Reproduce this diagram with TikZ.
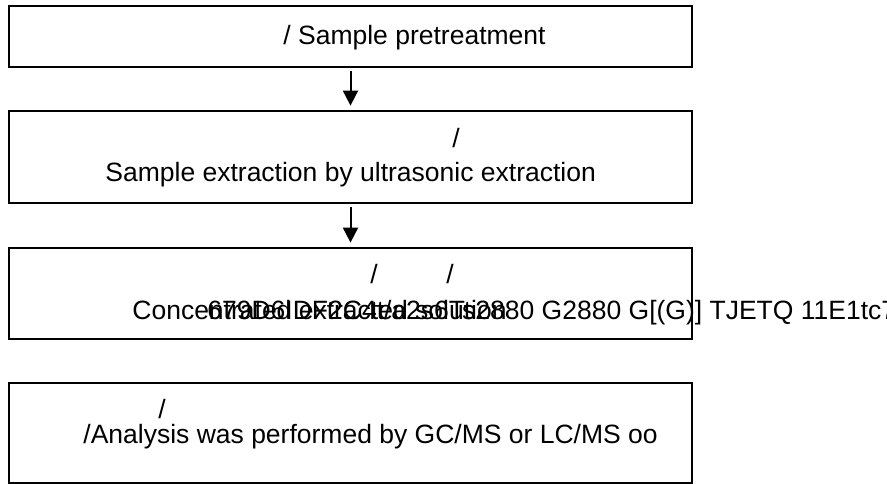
\documentclass[tikz,border=0pt]{standalone}
\usepackage{fontspec}
\setmainfont{Liberation Sans}
\usetikzlibrary{arrows.meta,positioning}

\begin{document}
\begin{tikzpicture}
	[x=1pt,y=-1pt,thick,
	stage/.style={shape=rectangle,draw,line width=1.8pt,minimum width=683pt,inner sep=0pt},
	txt/.style={anchor=base west,inner sep=0pt,font=\fontsize{26.5}{30}\selectfont}]
	\useasboundingbox (0,0) rectangle (887,484);
	% the four stages
	\node[stage,minimum height=61pt] (s1) at (350.5,36.5) {};
	\node[stage,minimum height=92pt] (s2) at (350.5,157) {};
	\node[stage,minimum height=91pt] (s3) at (350.5,293.5) {};
	\node[stage,minimum height=100pt] (s4) at (350.5,433) {};

	\node[txt] (t1) at (283,45) {/ Sample pretreatment};

	\node[txt] (t2a) at (452,148) {/};
	\node[txt] (t2b) at (105,182) {Sample extraction by ultrasonic extraction};

	\node[txt] (t3a) at (370,283) {/};
	\node[txt] (t3b) at (446,283) {/};
	\node[txt] (t3c) at (132,319) {Concentrated extracted solution};
	\node[txt] (t3d) at (207,319) {679D6IDF2C4t/a2s6Ts2880 G2880 G[(G)] TJETQ 11E1tc7};

	\node[txt] (t4a) at (158,418) {/};
	\node[txt] (t4b) at (83,443) {/Analysis was performed by GC/MS or LC/MS oo};

	\path
	\foreach \startNode/\endNode in {s1/s2,s2/s3}
	{
		(\startNode) edge[-{Triangle[width=15pt,length=15pt]},line width=2pt,shorten <=3.5pt,shorten >=4.5pt] (\endNode)
	};
\end{tikzpicture}
\end{document}
